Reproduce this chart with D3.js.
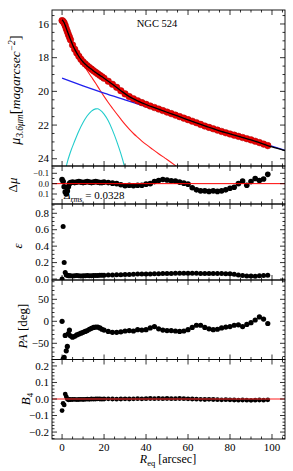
<!DOCTYPE html>
<html><head><meta charset="utf-8">
<script src="https://cdn.jsdelivr.net/npm/d3@7"></script>
<style>
body{margin:0;background:#fff}
svg{display:block}
text{font-family:"Liberation Serif","Times New Roman",serif;fill:#000}
</style>
</head><body>
<svg id="c" width="293" height="471"></svg>
<script>
// ---------- DATA ----------
const radii = [0,0.5,1,1.5,2,2.5,3,3.5,4,5,6,7,8,9,10,11,12,13,14,15,16,17,18,19,20,
  22,24,26,28,30,32,34,36,38,40,42,44,46,48,50,52,54,56,58,60,62,64,66,68,70,72,74,76,78,80,82,84,86,88,90,92,94,96,98];

const muData = [15.8,15.85,15.95,16.1,16.28,16.45,16.62,16.78,16.94,17.25,17.5,17.72,17.92,18.1,18.25,18.37,18.48,18.58,18.68,18.78,18.87,18.96,19.05,19.13,19.22,
  19.4,19.58,19.76,19.96,20.15,20.31,20.44,20.56,20.67,20.77,20.87,20.96,21.05,21.14,21.23,21.32,21.41,21.5,21.59,21.68,21.77,21.86,21.96,22.06,22.14,22.22,22.3,22.38,22.46,22.53,22.6,22.67,22.74,22.81,22.88,22.96,23.04,23.13,23.22];

const residual = [-0.04,-0.02,0.03,0.08,0.1,0.07,0.03,0.0,-0.01,-0.015,-0.01,-0.015,-0.02,-0.015,-0.01,-0.015,-0.02,-0.015,-0.01,-0.015,-0.02,-0.015,-0.01,-0.01,-0.015,
  -0.01,-0.005,0.0,0.01,0.02,0.015,0.02,0.015,0.015,0.005,0.0,-0.02,-0.03,-0.04,-0.035,-0.028,-0.025,-0.015,-0.005,0.005,0.04,0.06,0.07,0.07,0.075,0.07,0.075,0.07,0.06,0.045,0.035,0.0,-0.025,0.015,-0.02,-0.05,-0.03,-0.045,-0.09];

const ellip = [0.0,0.64,0.2,0.08,0.05,0.045,0.04,0.04,0.04,0.038,0.04,0.042,0.04,0.038,0.04,0.04,0.042,0.04,0.04,0.042,0.043,0.044,0.045,0.045,0.046,
  0.048,0.05,0.052,0.053,0.055,0.056,0.058,0.06,0.06,0.06,0.062,0.063,0.065,0.066,0.067,0.068,0.069,0.07,0.07,0.07,0.07,0.069,0.068,0.068,0.067,0.067,0.066,0.066,0.065,0.064,0.058,0.05,0.042,0.038,0.036,0.035,0.04,0.042,0.045];

const posAngle = [0,-86,-82,-32,-67,-57,-28,-20,-33,-36,-34,-31,-29,-27,-25,-23,-21,-18,-16,-14,-13,-13,-15,-18,-20,
  -23,-25,-25,-24,-22,-21,-22,-19,-20,-19,-15,-12,-17,-20,-21,-21,-22,-23,-22,-19,-14,-9,-9,-14,-17,-19,-18,-15,-13,-12,-9,-8,-12,-7,-3,3,10,5,-5];

const b4 = [-0.07,-0.026,-0.036,0.03,0.014,0.0,-0.005,-0.003,-0.004,-0.003,-0.002,-0.004,-0.003,-0.002,-0.003,-0.002,-0.001,-0.002,0.0,-0.001,0.0,0.001,0.0,-0.001,0.0,
  0.001,0.0,-0.001,0.0,0.001,0.0,0.001,0.002,0.001,0.002,0.003,0.002,0.003,0.002,0.003,0.002,0.002,0.003,0.002,0.001,0.0,-0.001,-0.002,-0.003,-0.002,-0.003,-0.004,-0.005,-0.004,-0.005,-0.006,-0.007,-0.006,-0.007,-0.008,-0.007,-0.006,-0.007,-0.005];

// model components
const modelR  = [0,1,2,3,4,5,6,8,10,12,14,16,18,20,24,28,32,36,40,45,50,55,60,65,70,75,80,85,90,95,100,106.2];
const modelMu = [15.75,15.93,16.26,16.6,16.92,17.23,17.49,17.93,18.26,18.49,18.69,18.88,19.05,19.22,19.58,19.96,20.31,20.56,20.78,21.01,21.24,21.46,21.69,21.92,22.13,22.34,22.52,22.7,22.88,23.09,23.3,23.52];

const bulgeR  = [0,1,2,3,4,5,6,8,10,12,14,16,18,20,22,24,26,28,30,32,34,36,38,40,43,46,49,52,55];
const bulgeMu = [15.75,15.92,16.2,16.52,16.85,17.2,17.45,17.93,18.38,18.78,19.15,19.52,19.92,20.3,20.66,21.0,21.33,21.65,21.96,22.24,22.5,22.73,22.95,23.15,23.43,23.7,23.96,24.22,24.5];

const diskR  = [0,10,20,30,40,50,60,70,80,90,98,106.2];
const diskMu = [19.22,19.67,20.1,20.5,20.9,21.3,21.7,22.1,22.48,22.86,23.18,23.5];

const barR  = [1.6,2.2,4,6,8,10,12,14,16,17,18,20,22,24,26,28,29.5,30.2];
const barMu = [24.7,24.35,23.6,22.95,22.35,21.85,21.45,21.17,21.04,21.03,21.1,21.35,21.75,22.3,22.95,23.7,24.35,24.7];

// tick labels
const xTicks = [0,20,40,60,80,100];
const muTicks = [16,18,20,22,24];
const resTicks = [-0.1,0.0,0.1];
const eTicks = [0.0,0.2,0.4,0.6,0.8];
const paTicks = [-50,0,50];
const b4Ticks = [-0.2,-0.1,0.0,0.1,0.2];

// ---------- LAYOUT ----------
const svg = d3.select("#c");
const L = 52, Rr = 285;
const x = d3.scaleLinear().domain([-4.8,106.2]).range([L,Rr]);

const panels = [
  {id:"mu",  top:10,    bot:166,   dom:[15.17,24.43], inv:true,  ticks:muTicks, minor:0.5, fmt:d3.format("d"), fs:11},
  {id:"res", top:166,   bot:204,   dom:[-0.1705,0.1966], inv:true, ticks:resTicks, minor:0.05, fmt:d3.format(".1f"), fs:8.5},
  {id:"e",   top:204,   bot:280,   dom:[-0.012,0.913], inv:false, ticks:eTicks, minor:0.05, fmt:d3.format(".1f"), fs:11},
  {id:"pa",  top:280,   bot:359.5, dom:[-86.8,93.9], inv:false, ticks:paTicks, minor:10, fmt:d3.format("d"), fs:11},
  {id:"b4",  top:359.5, bot:439,   dom:[-0.242,0.239], inv:false, ticks:b4Ticks, minor:0.02, fmt:d3.format(".1f"), fs:11}
];
panels.forEach(p=>{
  p.y = d3.scaleLinear().domain(p.dom).range(p.inv ? [p.top,p.bot] : [p.bot,p.top]);
  const cp = svg.append("clipPath").attr("id","clip-"+p.id);
  cp.append("rect").attr("x",L).attr("y",p.top).attr("width",Rr-L).attr("height",p.bot-p.top);
  p.g = svg.append("g").attr("clip-path","url(#clip-"+p.id+")");
});
const P = Object.fromEntries(panels.map(p=>[p.id,p]));

// ---------- MAIN PANEL ----------
const pm = P.mu;
const lineOf = (xs,ys,sc)=> d3.line().x((d,i)=>x(xs[i])).y((d,i)=>sc(ys[i])).curve(d3.curveMonotoneX)(xs);

pm.g.append("path").attr("d",lineOf(barR,barMu,pm.y)).attr("fill","none").attr("stroke","#22cccc").attr("stroke-width",1.1);
pm.g.append("path").attr("d",lineOf(bulgeR,bulgeMu,pm.y)).attr("fill","none").attr("stroke","#ff2020").attr("stroke-width",1.1);
pm.g.append("path").attr("d",lineOf(diskR,diskMu,pm.y)).attr("fill","none").attr("stroke","#2020ee").attr("stroke-width",1.3);
pm.g.selectAll("circle.d").data(radii).join("circle")
  .attr("cx",(d)=>x(d)).attr("cy",(d,i)=>pm.y(muData[i])).attr("r",3.3)
  .attr("fill","#ee0000").attr("stroke","#aa0000").attr("stroke-width",0.5);
pm.g.append("path").attr("d",lineOf(modelR,modelMu,pm.y)).attr("fill","none").attr("stroke","#000").attr("stroke-width",1.3);

svg.append("text").attr("x",157).attr("y",27).attr("text-anchor","middle").attr("font-size",10.5).text("NGC 524");

// ---------- RESIDUALS ----------
const blackDots = (p, vals, r)=>{
  p.g.selectAll("circle.k").data(radii).join("circle")
    .attr("cx",d=>x(d)).attr("cy",(d,i)=>p.y(vals[i])).attr("r",r).attr("fill","#000");
};
blackDots(P.res, residual, 2.8);
P.res.g.append("line").attr("x1",L).attr("x2",Rr).attr("y1",P.res.y(0)).attr("y2",P.res.y(0)).attr("stroke","#ff0000").attr("stroke-width",1);
const t = svg.append("text").attr("x",64).attr("y",199).attr("font-size",11);
t.append("tspan").attr("font-style","italic").text("Δ");
t.append("tspan").attr("font-style","italic").attr("font-size",8).attr("dy",2.5).text("rms");
t.append("tspan").attr("dy",-2.5).text(" = 0.0328");

blackDots(P.e, ellip, 2.5);
blackDots(P.pa, posAngle, 2.6);
blackDots(P.b4, b4, 2.4);
P.b4.g.append("line").attr("x1",L).attr("x2",Rr).attr("y1",P.b4.y(0)).attr("y2",P.b4.y(0)).attr("stroke","rgba(255,40,40,0.7)").attr("stroke-width",1.3);

// ---------- AXES / FRAMES ----------
const xMinor = d3.range(-0,106,5);
panels.forEach(p=>{
  const g = svg.append("g").attr("stroke","#000").attr("stroke-width",0.8);
  xMinor.forEach(v=>{
    const len = (v%20===0)?5:2.5;
    g.append("line").attr("x1",x(v)).attr("x2",x(v)).attr("y1",p.bot).attr("y2",p.bot-len);
    g.append("line").attr("x1",x(v)).attr("x2",x(v)).attr("y1",p.top).attr("y2",p.top+len);
  });
  const lo = Math.min(...p.dom), hi = Math.max(...p.dom);
  const start = Math.ceil(lo/p.minor - 1e-6);
  for(let k=start; k*p.minor<=hi+1e-9; k++){
    const v = +(k*p.minor).toFixed(6);
    const isMajor = p.ticks.some(tk=>Math.abs(tk-v)<1e-6);
    const len = isMajor?5:2.5;
    const yy = p.y(v);
    g.append("line").attr("x1",L).attr("x2",L+len).attr("y1",yy).attr("y2",yy);
    g.append("line").attr("x1",Rr).attr("x2",Rr-len).attr("y1",yy).attr("y2",yy);
  }
  svg.append("rect").attr("x",L).attr("y",p.top).attr("width",Rr-L).attr("height",p.bot-p.top)
    .attr("fill","none").attr("stroke","#000").attr("stroke-width",0.9);
  p.ticks.forEach(v=>{
    svg.append("text").attr("x",49).attr("y",p.y(v)+p.fs*0.34).attr("text-anchor","end").attr("font-size",p.fs).text(p.fmt(v));
  });
});
xTicks.forEach(v=>{
  svg.append("text").attr("x",x(v)).attr("y",451).attr("text-anchor","middle").attr("font-size",11).text(v);
});

// x title
const xt = svg.append("text").attr("x",168).attr("y",463).attr("text-anchor","middle").attr("font-size",12);
xt.append("tspan").attr("font-style","italic").text("R");
xt.append("tspan").attr("font-size",8.5).attr("dy",2.5).text("eq");
xt.append("tspan").attr("dy",-2.5).text(" [arcsec]");

// y titles
const yl = (xx,yy)=> svg.append("text").attr("transform",`translate(${xx},${yy}) rotate(-90)`).attr("text-anchor","middle");
const m = yl(20,90).attr("font-size",13.5);
m.append("tspan").attr("font-style","italic").attr("font-size",14).text("μ");
m.append("tspan").attr("font-size",9.5).attr("dy",3).attr("font-style","italic").text("3.6");
m.append("tspan").attr("font-size",9.5).attr("font-style","italic").text("μm");
m.append("tspan").attr("dy",-3).attr("font-size",15).text("[");
m.append("tspan").attr("font-style","italic").text("magarcsec");
m.append("tspan").attr("font-size",9.5).attr("dy",-5).attr("font-style","italic").text("−2");
m.append("tspan").attr("dy",5).attr("font-size",15).text("]");

const dm = yl(17,185).attr("font-size",13);
dm.append("tspan").text("Δ");
dm.append("tspan").attr("font-style","italic").text("μ");

yl(22,246).attr("font-size",13).attr("font-style","italic").text("ε");

const pa = yl(27,326).attr("font-size",13);
pa.append("tspan").attr("font-style","italic").text("PA");
pa.append("tspan").text(" [deg]");

const bb = yl(30,399).attr("font-size",13);
bb.append("tspan").attr("font-style","italic").text("B");
bb.append("tspan").attr("font-size",9).attr("dy",2.5).text("4");
</script>
</body></html>
